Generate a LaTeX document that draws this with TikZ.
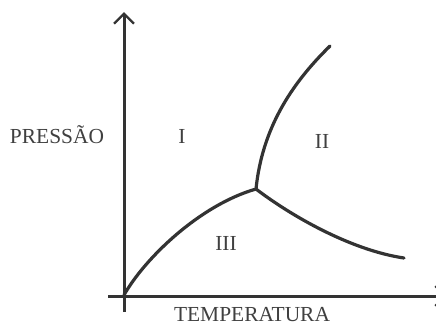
\documentclass[tikz,border=0pt]{standalone}
\usepackage{fontspec}
\setmainfont{Liberation Serif}
\usetikzlibrary{arrows.meta}

\begin{document}
\begin{tikzpicture}[x=1bp, y=-1bp, black!80,
  axis/.style={line width=3bp, -{Straight Barb[length=10bp,width=20bp,line width=2.4bp]}},
  curve/.style={line width=3.2bp, line cap=round},
  lbl/.style={anchor=base, inner sep=0pt, text=black!75,
    font=\fontsize{21.5}{25}\selectfont}]
  \useasboundingbox (0,0) rectangle (436,325);
  % eixos
  \coordinate (O) at (124,295);
  \coordinate (ybot) at (124,312);
  \coordinate (ytop) at (124,12);
  \coordinate (xleft) at (108,296);
  \coordinate (xright) at (447,296);
  \draw[axis] (ybot) -- (ytop);
  \draw[axis] (xleft) -- (xright);
  % curvas de equilibrio
  \coordinate (T) at (256,189);
  \coordinate (Tup) at (330,46);
  \coordinate (Tdown) at (404,258);
  \draw[curve] (O) .. controls (145,258) and (200,205) .. (T);
  \draw[curve] (T) .. controls (262,130) and (290,85) .. (Tup);
  \draw[curve] (T) .. controls (290,215) and (350,250) .. (Tdown);
  % rotulos
  \node[lbl] (pres) at (57,143) {PRESSÃO};
  \node[lbl] (temp) at (252,321) {TEMPERATURA};
  \node[lbl] (fI) at (182,143) {I};
  \node[lbl] (fII) at (322,148) {II};
  \node[lbl] (fIII) at (226,250) {III};
\end{tikzpicture}
\end{document}
